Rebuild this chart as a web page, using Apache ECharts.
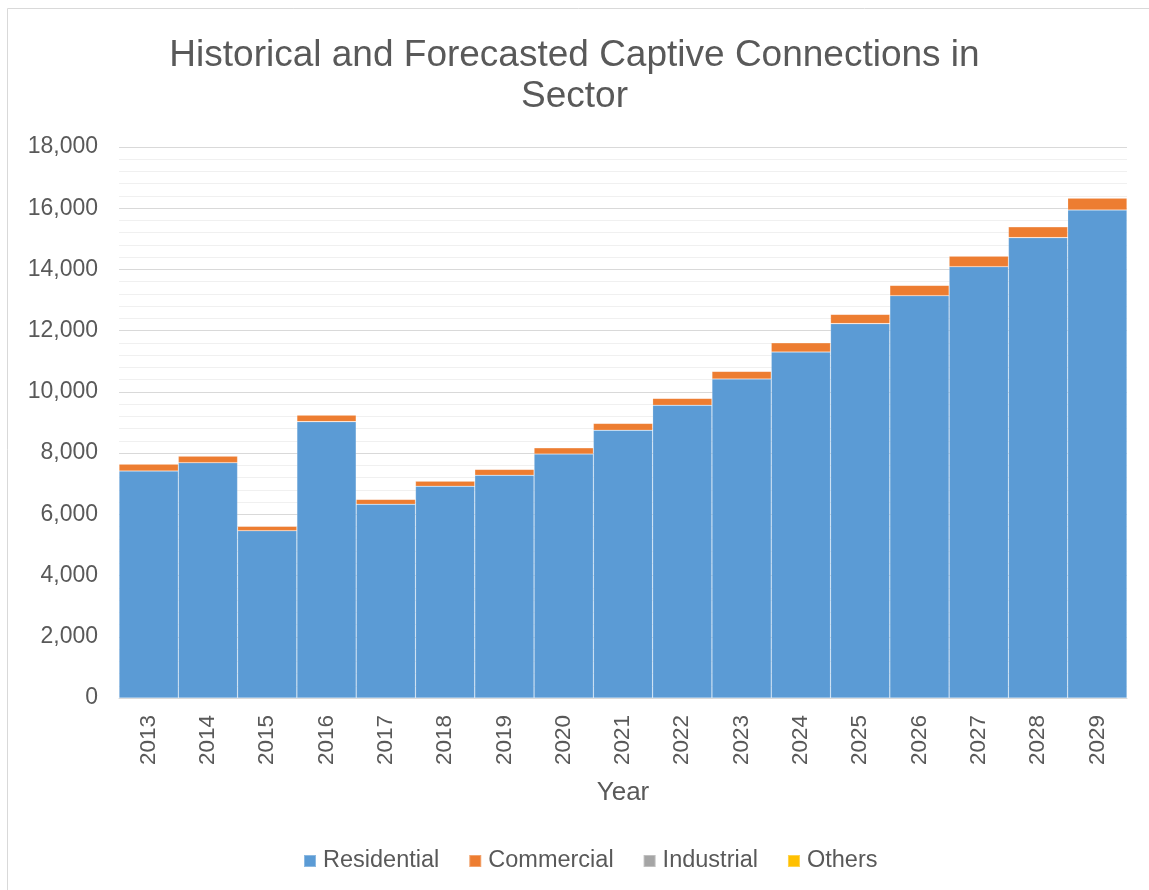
<!DOCTYPE html>
<html>
<head>
<meta charset="utf-8">
<title>Captive Connections</title>
<script src="https://cdn.jsdelivr.net/npm/echarts@6/dist/echarts.min.js"></script>
<style>
	html, body { margin: 0; padding: 0; background: #fff; }
	#chart { width: 1149px; height: 890px; }
</style>
</head>
<body>
<div id="chart"></div>
<script>
// values
const years = ['2013', '2014', '2015', '2016', '2017', '2018', '2019', '2020', '2021',
	'2022', '2023', '2024', '2025', '2026', '2027', '2028', '2029']
const residential = [7416, 7687, 5466, 9027, 6328, 6916, 7275, 7971, 8746,
	9562, 10422, 11304, 12229, 13143, 14090, 15038, 15943]
const commercial = [230, 220, 150, 220, 163, 173, 196, 206, 228,
	229, 251, 304, 306, 340, 350, 359, 392]
const industrial = [0, 0, 0, 0, 0, 0, 0, 0, 0, 0, 0, 0, 0, 0, 0, 0, 0]
const others = [0, 0, 0, 0, 0, 0, 0, 0, 0, 0, 0, 0, 0, 0, 0, 0, 0]

const textColor = '#595959'
const font = 'Liberation Sans, Arial, sans-serif'

const chart = echarts.init(document.getElementById('chart'))

function bar(name, data, color) {
	return {
		name: name,
		type: 'bar',
		stack: 'total',
		barCategoryGap: '0%',
		data: data,
		itemStyle: {
			color: color,
			borderColor: 'rgba(255,255,255,0.3)',
			borderWidth: 0.6
		}
	}
}

chart.setOption({
	animation: false,
	textStyle: { fontFamily: font },
	graphic: [
		{
			type: 'rect',
			shape: { x: 7.5, y: 8.5, width: 1300, height: 1000 },
			style: { fill: 'none', stroke: '#d9d9d9', lineWidth: 1 },
			silent: true
		}
	],
	title: {
		text: 'Historical and Forecasted Captive Connections in\nSector',
		left: 'center',
		top: 30,
		textStyle: {
			color: textColor,
			fontSize: 37,
			fontWeight: 'normal',
			lineHeight: 41,
			fontFamily: font
		}
	},
	legend: {
		bottom: 12,
		left: 298,
		itemWidth: 12,
		itemHeight: 12,
		itemGap: 29,
		icon: 'rect',
		textStyle: { color: textColor, fontSize: 23.5, fontFamily: font, padding: [0, 0, 0, 2] },
		data: ['Residential', 'Commercial', 'Industrial', 'Others']
	},
	grid: {
		left: 119,
		right: 22,
		top: 147,
		bottom: 192
	},
	xAxis: {
		type: 'category',
		data: years,
		name: 'Year',
		nameLocation: 'middle',
		nameGap: 82,
		nameTextStyle: { color: textColor, fontSize: 26, fontFamily: font },
		axisLine: { lineStyle: { color: '#d9d9d9', width: 1 } },
		axisTick: { show: false },
		axisLabel: {
			rotate: 90,
			margin: 17,
			color: textColor,
			fontSize: 22.5,
			fontFamily: font
		}
	},
	yAxis: {
		type: 'value',
		min: 0,
		max: 18000,
		interval: 2000,
		axisLine: { show: false },
		axisTick: { show: false },
		axisLabel: {
			margin: 21,
			color: textColor,
			fontSize: 23,
			fontFamily: font,
			formatter: v => v.toLocaleString('en-US')
		},
		splitLine: { lineStyle: { color: '#d9d9d9', width: 1 } },
		minorTick: { show: false, splitNumber: 5 },
		minorSplitLine: { show: true, lineStyle: { color: '#f0f0f0', width: 1 } }
	},
	series: [
		bar('Residential', residential, '#5b9bd5'),
		bar('Commercial', commercial, '#ed7d31'),
		bar('Industrial', industrial, '#a5a5a5'),
		bar('Others', others, '#ffc000')
	]
})
</script>
</body>
</html>
